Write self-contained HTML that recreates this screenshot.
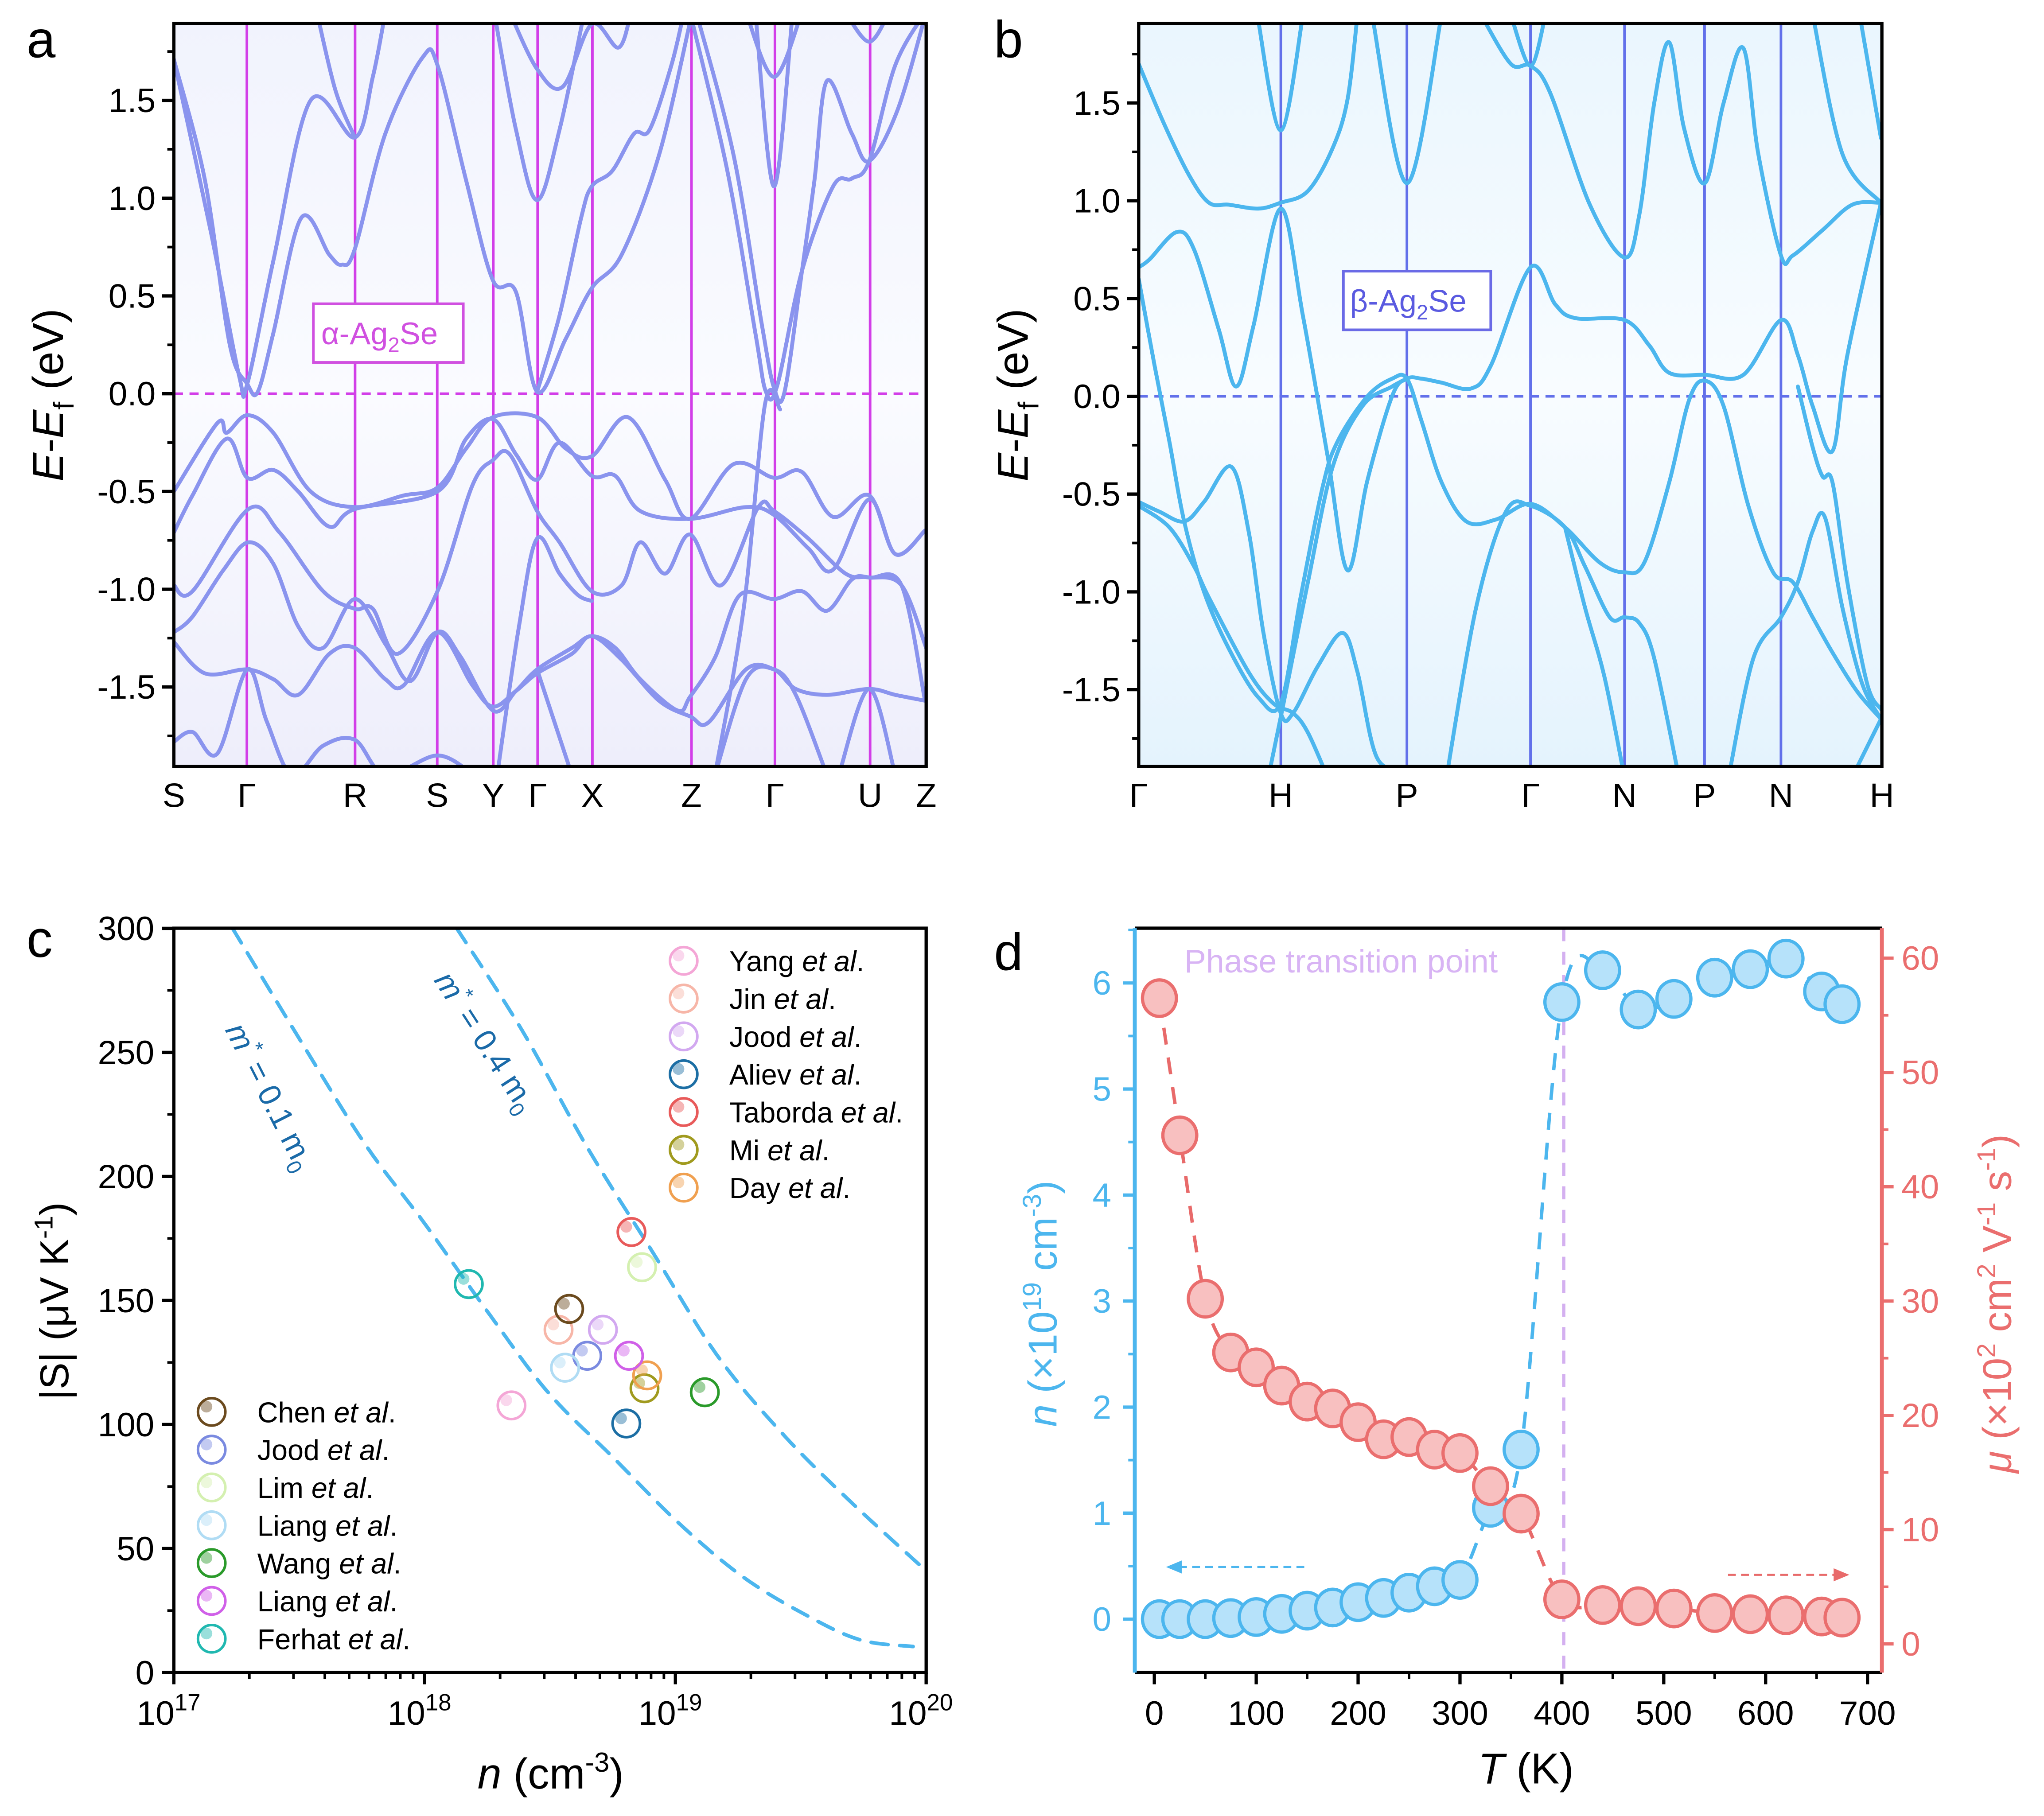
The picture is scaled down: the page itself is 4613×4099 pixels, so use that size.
<!DOCTYPE html>
<html><head><meta charset="utf-8"><style>
html,body{margin:0;padding:0;background:#fff}
svg{display:block}
text{font-family:"Liberation Sans",sans-serif}
</style></head><body>
<svg id="fig" xmlns="http://www.w3.org/2000/svg" width="4613" height="4099" viewBox="0 0 1567 1393">
<defs>
<linearGradient id="ga" x1="0" y1="0" x2="0" y2="1"><stop offset="0" stop-color="#f1f3fd"/><stop offset="0.5" stop-color="#fafbff"/><stop offset="1" stop-color="#eeeefb"/></linearGradient>
<linearGradient id="gb" x1="0" y1="0" x2="0" y2="1"><stop offset="0" stop-color="#eaf6fe"/><stop offset="0.5" stop-color="#f8fcff"/><stop offset="1" stop-color="#e4f3fd"/></linearGradient>
<clipPath id="ca"><rect x="133" y="18" width="577" height="570"/></clipPath>
<clipPath id="cb"><rect x="873" y="18" width="570" height="570"/></clipPath>
<clipPath id="cc"><rect x="133" y="712" width="577" height="571"/></clipPath>
</defs>
<g font-size="40" fill="#000">
<text x="20" y="44">a</text>
<text x="762" y="44">b</text>
<text x="20" y="734">c</text>
<text x="762" y="744">d</text>
</g>
<rect x="133" y="18" width="577" height="570" fill="url(#ga)"/>
<rect x="873" y="18" width="570" height="570" fill="url(#gb)"/>
<g id="ga-g" clip-path="url(#ca)"></g>
<g id="gb-g" clip-path="url(#cb)"></g>
<g id="gc-g"></g>
<g id="gd-g"></g>
<g id="axes"></g>
</svg>
<script>
// ---------- Panel a data ----------
const aKLabels = ["S","Γ","R","S","Y","Γ","X","Z","Γ","U","Z"];
const aKPos = [0,56,139,202,245,279,321,397,461,534,577];
const aBandsK = [
 [0,23.9,42.9,56.3,64.4,76.3,97.8,119.3,128.8,138.8,162.2,190.8,202.2,224.2,244.7,262.4,278.6,300.5,320.5,343.4,372.1,395.9],
 [0,28.6,50.1,56.3,76.3,104.9,138.8,152.6,162.2],
 [109.7,124,138.8],
 [245.7,262.4,278.6,295.8,314.8],
 [257.6,278.6,298.3,320.5,341,350.6],
 [278.6,295.8,312.4,320.5,336.3,353,364.9,381.6,391.2],
 [395.9,424.5,446,454.1,462.7,481.8,505.6,519.9,533.3,553.3,576.2],
 [400.7,429.3,450.8,460.3,468.4,481.8,491.3,500.9,520,533.3,555,577],
 [438.8,460.3,481.7],
 [446,460.3,474.6],
 [515,533.3,548.6],
 [0,33.4,40.5,56.3,76.3,104.9,138.8,176.5,202.2,224.2,244.7,278.6,300.5,320.5,348.2,376.8,395.9,429.3,460.3,481.7,505.6,533.3,553.3,576.1],
 [0,14.3,40.5,56.3,76.3,95.4,119.3,138.8,202.2,224.2,244.7,262.4,278.6,295.8,320.5,338.6,357.7,395.9,438.8,460.3,486.5,505.6,533.3,553.3,576.1],
 [0,14.3,57.2,81.1,114.5,138.8,152.6,171.7,202.2,228.9,244.7,257.6,278.6,295.8,320.5,343.4,357.7,376.8,395.9,419.7,448.3,460.3,486.5,515.2,533.3,558.1,576.1],
 [0,14.3,38.2,57.2,76.3,95.4,114.5,138.8,162.2,181.3,202.2,219.4,244.7,262.4,278.6,305.3,320.5,338.6,357.7,386.3,395.9,415,434,460.3,481.7,500.9,520,533.3,558.1,577],
 [0,23.8,56.3,76.3,95.4,119.3,138.8,162.2,176.5,202.2,228.9,244.7,262.4,278.6,305.3,320.5,343.4,372.1,395.9,410.2,438.8,460.3,477,500.9,533.3,553.3,576.1],
 [0,14.3,33.4,56.3,71.5,90.6,114.5,138.8,162.2,202.2,230],
 [278.6,305.3],
 [248,264.7,278.6,295.8,310,320.5],
 [415,437,453.5,465],
 [415,438.8,460.3,477,500.9],
 [510,533.3,553.3]
];
const aBandsE = [
 [1.71,1.09,0.25,0.05,0.01,0.31,0.90,0.71,0.66,0.74,1.33,1.72,1.68,1.09,0.58,0.52,0.01,0.28,0.54,0.71,1.22,1.90],
 [1.71,0.82,0.09,0.05,0.68,1.50,1.31,1.62,1.95],
 [1.95,1.55,1.31],
 [1.95,1.35,0.99,1.35,1.95],
 [1.95,1.66,1.57,1.89,1.77,1.95],
 [0.01,0.40,0.90,1.06,1.14,1.33,1.35,1.68,1.95],
 [1.95,1.14,0.31,0.01,0.04,0.63,1.06,1.10,1.19,1.68,1.95],
 [1.95,1.22,0.36,0.03,0.01,0.63,1.09,1.60,1.33,1.19,1.45,1.95],
 [1.95,1.62,1.95],
 [1.95,1.06,1.95],
 [1.95,1.80,1.95],
 [-0.50,-0.15,-0.20,-0.11,-0.20,-0.50,-0.58,-0.52,-0.48,-0.28,-0.12,-0.12,-0.28,-0.32,-0.12,-0.44,-0.64,-0.36,-0.43,-0.40,-0.63,-0.52,-0.82,-0.70],
 [-0.71,-0.52,-0.23,-0.43,-0.39,-0.50,-0.68,-0.59,-0.50,-0.23,-0.13,-0.31,-0.44,-0.25,-0.42,-0.42,-0.60,-0.64,-0.58,-0.62,-0.79,-0.90,-0.54,-0.82,-0.70],
 [-0.98,-1.01,-0.59,-0.71,-1.01,-1.10,-1.10,-1.33,-1.01,-0.47,-0.34,-0.31,-0.60,-0.76,-1.01,-0.98,-0.76,-0.92,-0.72,-0.98,-0.58,-0.60,-0.74,-0.92,-0.94,-0.98,-1.57],
 [-1.22,-1.14,-0.90,-0.76,-0.87,-1.19,-1.30,-1.05,-1.28,-1.47,-1.22,-1.34,-1.62,-1.52,-1.41,-1.30,-1.24,-1.30,-1.46,-1.62,-1.55,-1.35,-1.03,-1.05,-1.01,-1.11,-0.95,-0.94,-0.98,-1.30],
 [-1.27,-1.43,-1.41,-1.46,-1.54,-1.33,-1.30,-1.46,-1.49,-1.22,-1.49,-1.60,-1.52,-1.43,-1.33,-1.24,-1.36,-1.57,-1.65,-1.68,-1.41,-1.41,-1.51,-1.54,-1.51,-1.54,-1.57],
 [-1.78,-1.73,-1.84,-1.41,-1.68,-1.95,-1.80,-1.77,-1.95,-1.85,-1.95],
 [-1.41,-1.95],
 [-1.95,-1.19,-0.74,-0.92,-1.03,-1.06],
 [-1.95,-1.10,-0.05,-0.08],
 [-1.95,-1.46,-1.41,-1.54,-1.95],
 [-1.95,-1.51,-1.95]
];
// ---------- Panel b data ----------
const bKLabels = ["Γ","H","P","Γ","N","P","N","H"];
const bKPos = [0,109,205.7,300.5,372.6,434,492.6,570];
const bBandsK = [
 [0,19.7,38.7,53.9,69.1,91.8,108.9,129.8,148.8,160.2,167.8],
 [91,108.9,126],
 [179,205.7,232.3],
 [262.6,285.4,300.5,315.7,346,372.6,384,395.4,406.9,418.3,434.2,448.6,463.8,475.2,492.6,501.7,524.5,547.3,569.3],
 [285.4,300.5,312],
 [517,539.7,569.3],
 [553,569.3],
 [0,8.3,29.2,42.5,61.5,74.8,88.0,108.9,126,145,160.2,175.4,194.3,205.7,217.1,232.3,255,270.3,300.5,319.5,334.7,372.6,391.6,406.9,434.2,463.8,492.6,505.6,516.9,532.1,543.5,569.3],
 [0,12.1,23.5,34.9,50.1,69.1,91.8,108.9,124.1,141.2,152.6,175.4,194.3,205.7,217.1,232.3,251.3,274,300.5,327,353.6,372.6,387.8,406.9,422.1,434.2,448.6,467.6,486.6,501.7,516.9,532.1,551.1,569.3],
 [0,15.9,34.9,50.1,71,84.3,95.7,108.9,118.4,137.4,156.4,167.8,182.9,205.7,228.5],
 [0,23.5,42.5,53.9,84.3,103.2,118.4,129.8,145],
 [99.4,110.8,129.8,148.8,171.6,194.3,205.7],
 [236,258.8,281.6,300.5,327,342.3,361.3,372.6,384,395.4,414.4],
 [327,342.3,357.4,372.6],
 [452.4,471.4,492.6,505.6,516.9,526.4,539.7,554.9,569.3],
 [505.6,516.9,524.5,532.1,543.5,558.7,569.3],
 [547,569.3]
];
const bBandsE = [
 [1.70,1.39,1.13,0.99,0.98,0.96,0.99,1.05,1.27,1.52,1.95],
 [1.95,1.36,1.95],
 [1.95,1.09,1.95],
 [1.95,1.70,1.69,1.55,0.98,0.71,0.93,1.50,1.81,1.37,1.09,1.50,1.78,1.24,0.72,0.72,0.85,0.98,0.99],
 [1.95,1.69,1.95],
 [1.95,1.24,0.99],
 [1.95,1.32],
 [0.66,0.70,0.84,0.75,0.34,0.05,0.36,0.96,0.41,-0.31,-0.89,-0.43,0.00,0.09,0.09,0.07,0.04,0.16,0.66,0.47,0.40,0.39,0.26,0.12,0.11,0.11,0.39,0.21,-0.05,-0.28,0.21,0.99],
 [0.60,0.16,-0.23,-0.64,-1.00,-1.29,-1.54,-1.57,-1.03,-0.46,-0.23,0.00,0.09,0.09,-0.13,-0.44,-0.64,-0.63,-0.55,-0.67,-0.85,-0.90,-0.85,-0.44,-0.02,0.08,-0.05,-0.56,-0.90,-0.95,-1.13,-1.31,-1.51,-1.65],
 [-0.54,-0.59,-0.64,-0.54,-0.36,-0.69,-1.21,-1.62,-1.62,-1.38,-1.21,-1.41,-1.85,-1.90,-1.90],
 [-0.56,-0.67,-0.87,-1.03,-1.41,-1.57,-1.62,-1.72,-1.95],
 [-1.95,-1.58,-0.95,-0.36,-0.05,0.05,0.09],
 [-1.95,-1.08,-0.59,-0.56,-0.67,-0.87,-1.13,-1.13,-1.16,-1.34,-1.95],
 [-0.67,-1.08,-1.44,-1.95],
 [-1.95,-1.34,-1.13,-0.95,-0.69,-0.62,-1.08,-1.47,-1.65],
 [0.05,-0.26,-0.41,-0.44,-0.95,-1.47,-1.60],
 [-1.95,-1.65]
];
const eTicks = [-1.5,-1.0,-0.5,0.0,0.5,1.0,1.5];
// ---------- Panel c data ----------
const cLogN01 = [17.234,17.504,17.764,17.998,18.258,18.492,18.752,19.012,19.272,19.532,19.74,19.948];
const cS01 = [300,254.9,212.8,181.3,144.5,113.0,86.7,60.4,38.4,22.6,13.1,10.5];
const cLogN04 = [18.128,18.388,18.648,18.908,19.168,19.428,19.688,20];
const cS04 = [300,259,211.8,169.7,127.7,96.2,69.9,41];
const cNames = ["Yang","Jin","Jood","Aliev","Taborda","Mi","Day","Chen","Jood","Lim","Liang","Wang","Liang","Ferhat"];
const cColors = ["#f4a6d6","#f7b6a8","#d2a8f0","#1c6ea4","#e85a5a","#a09a1e","#f0a050","#6b4a1e","#7a8ae0","#d4f0b0","#b0dcf4","#2a9a2a","#d060e8","#20b8b0"];
const cN = [2.22e18,3.42e18,5.14e18,6.37e18,6.68e18,7.53e18,7.72e18,3.77e18,4.45e18,7.36e18,3.63e18,1.31e19,6.53e18,1.50e18];
const cS = [107.7,138.2,138.2,100.4,177.6,114.6,119.8,146.6,127.7,163.4,122.9,113.0,127.7,156.6];
const cTicksY = [0,50,100,150,200,250,300];
const cTicksX = [17,18,19,20];
// ---------- Panel d data ----------
const dT = [5,25,50,75,100,125,150,175,200,225,250,275,300,330,360,400,440,475,510,550,585,620,655,675];
const dN = [0,0,0,0.01,0.02,0.05,0.08,0.11,0.16,0.2,0.25,0.31,0.37,1.05,1.6,5.82,6.12,5.75,5.85,6.05,6.13,6.23,5.92,5.8];
const dMu = [56.5,44.5,30.2,25.5,24.2,22.6,21.2,20.6,19.4,17.9,18.1,17.0,16.7,13.8,11.4,3.9,3.4,3.3,3.1,2.7,2.6,2.5,2.4,2.3];
const dTicksX = [0,100,200,300,400,500,600,700];
const dTicksN = [0,1,2,3,4,5,6];
const dTicksMu = [0,10,20,30,40,50,60];

const NS = "http://www.w3.org/2000/svg";
function mk(tag, attrs, parent, name) {
  const el = document.createElementNS(NS, tag);
  for (const k in attrs) el.setAttribute(k, attrs[k]);
  
  
  parent.appendChild(el);
  return el;
}
function smooth(pts) {
  let d = "M" + pts[0][0] + "," + pts[0][1];
  for (let i = 0; i < pts.length - 1; i++) {
    const p0 = pts[Math.max(i - 1, 0)], p1 = pts[i], p2 = pts[i + 1], p3 = pts[Math.min(i + 2, pts.length - 1)];
    const c1 = [p1[0] + (p2[0] - p0[0]) / 6, p1[1] + (p2[1] - p0[1]) / 6];
    const c2 = [p2[0] - (p3[0] - p1[0]) / 6, p2[1] - (p3[1] - p1[1]) / 6];
    d += " C" + c1 + " " + c2 + " " + p2;
  }
  return d;
}
const ax = document.getElementById('axes');
const TF = 26;

function bandPanel(gid, x0, y0zero, kPos, kLabels, bandsK, bandsE, bandColor, vColor, name) {
  const g = document.getElementById(gid);
  const X = k => x0 + k;
  const Y = e => y0zero - e * 150;
  kPos.forEach((k, i) => {
    if (i > 0 && i < kPos.length - 1)
      mk('line', {x1: X(k), x2: X(k), y1: 18, y2: 588, stroke: vColor, 'stroke-width': 2}, g, name + '-kline');
  });
  mk('line', {x1: x0, x2: x0 + 580, y1: Y(0), y2: Y(0), stroke: vColor, 'stroke-width': 2, 'stroke-dasharray': '7,5'}, g, name + '-fermi-level');
  bandsK.forEach((ks, b) => {
    const pts = ks.map((k, i) => [X(k), Y(bandsE[b][i])]);
    mk('path', {d: smooth(pts), fill: 'none', stroke: bandColor, 'stroke-width': 3, 'stroke-linecap': 'round'}, g, name + '-band');
  });
  kPos.forEach((k, i) => {
    const t = mk('text', {x: X(k), y: 619, 'font-size': TF, 'text-anchor': 'middle'}, ax, name + '-k-label');
    t.textContent = kLabels[i];
  });
  eTicks.forEach(e => {
    mk('line', {x1: x0, x2: x0 - 9, y1: Y(e), y2: Y(e), stroke: '#000', 'stroke-width': 2.5}, ax, name + '-y-tick');
    mk('line', {x1: x0, x2: x0 - 5, y1: Y(e + 0.25), y2: Y(e + 0.25), stroke: '#000', 'stroke-width': 2}, ax, name + '-y-minor-tick');
    if (e === -1.5) mk('line', {x1: x0, x2: x0 - 5, y1: Y(e - 0.25), y2: Y(e - 0.25), stroke: '#000', 'stroke-width': 2}, ax, name + '-y-minor-tick');
    const t = mk('text', {x: x0 - 14, y: Y(e) + 9, 'font-size': TF, 'text-anchor': 'end'}, ax, name + '-y-tick-label');
    t.textContent = e.toFixed(1);
  });
}
bandPanel('ga-g', 133, 302, aKPos, aKLabels, aBandsK, aBandsE, '#8a94ee', '#d23ee8', 'panel-a');
bandPanel('gb-g', 873, 304, bKPos, bKLabels, bBandsK, bBandsE, '#4cb6ee', '#6270ea', 'panel-b');
mk('rect', {x: 133, y: 18, width: 577, height: 570, fill: 'none', stroke: '#000', 'stroke-width': 2.5}, ax, 'panel-a-frame');
mk('rect', {x: 873, y: 18, width: 570, height: 570, fill: 'none', stroke: '#000', 'stroke-width': 2.5}, ax, 'panel-b-frame');

// ----- panel c -----
(function () {
  const g = document.getElementById('gc-g');
  const X = l => 133 + (l - 17) * 192.33;
  const Y = s => 1283 - s * 1.903;
  const clip = mk('g', {'clip-path': 'url(#cc)'}, g, 'panel-c-plot-area');
  mk('path', {d: smooth(cLogN01.map((l, i) => [X(l), Y(cS01[i])])), fill: 'none', stroke: '#4cb6ee', 'stroke-width': 2.8, 'stroke-dasharray': '13,9', 'stroke-linecap': 'round'}, clip, 'curve-m-0.1');
  mk('path', {d: smooth(cLogN04.map((l, i) => [X(l), Y(cS04[i])])), fill: 'none', stroke: '#4cb6ee', 'stroke-width': 2.8, 'stroke-dasharray': '13,9', 'stroke-linecap': 'round'}, clip, 'curve-m-0.4');
  cN.forEach((n, i) => {
    const cx = X(Math.log10(n)), cy = Y(cS[i]);
    mk('circle', {cx: cx - 4, cy: cy - 4, r: 4.5, fill: cColors[i], 'fill-opacity': 0.45}, g, 'data-point-glow');
    mk('circle', {cx: cx, cy: cy, r: 10.5, fill: 'none', stroke: cColors[i], 'stroke-width': 2}, g, 'data-point-' + cNames[i].toLowerCase());
  });
  const order1 = [0, 1, 2, 3, 4, 5, 6];
  const order2 = [7, 8, 9, 10, 11, 12, 13];
  [[order1, 524, 737], [order2, 162, 1083]].forEach(([ord, lx, ly]) => {
    ord.forEach((idx, j) => {
      const cy = ly + j * 29;
      mk('circle', {cx: lx - 4, cy: cy - 4, r: 4.5, fill: cColors[idx], 'fill-opacity': 0.45}, g, 'legend-marker-glow');
      mk('circle', {cx: lx, cy: cy, r: 10.5, fill: 'none', stroke: cColors[idx], 'stroke-width': 2}, g, 'legend-marker');
      const t = mk('text', {x: lx + 35, y: cy + 8, 'font-size': 22}, g, 'legend-entry');
      t.innerHTML = cNames[idx] + ' <tspan font-style="italic">et al</tspan>.';
    });
  });
  cTicksY.forEach(s => {
    mk('line', {x1: 133, x2: 124, y1: Y(s), y2: Y(s), stroke: '#000', 'stroke-width': 2.5}, ax, 'panel-c-y-tick');
    if (s < 300) mk('line', {x1: 133, x2: 128, y1: Y(s + 25), y2: Y(s + 25), stroke: '#000', 'stroke-width': 2}, ax, 'panel-c-y-minor-tick');
    const t = mk('text', {x: 118, y: Y(s) + 9, 'font-size': TF, 'text-anchor': 'end'}, ax, 'panel-c-y-tick-label');
    t.textContent = s;
  });
  cTicksX.forEach(l => {
    mk('line', {x1: X(l), x2: X(l), y1: 1283, y2: 1292, stroke: '#000', 'stroke-width': 2.5}, ax, 'panel-c-x-tick');
    if (l < 20) for (let m = 2; m < 10; m++) mk('line', {x1: X(l + Math.log10(m)), x2: X(l + Math.log10(m)), y1: 1283, y2: 1288, stroke: '#000', 'stroke-width': 2}, ax, 'panel-c-x-minor-tick');
    const t = mk('text', {x: X(l) - 4, y: 1323, 'font-size': TF, 'text-anchor': 'middle'}, ax, 'panel-c-x-tick-label');
    t.innerHTML = '10<tspan dy="-11" font-size="18">' + l + '</tspan>';
  });
  mk('rect', {x: 133, y: 712, width: 577, height: 571, fill: 'none', stroke: '#000', 'stroke-width': 2.5}, ax, 'panel-c-frame');
})();

// ----- panel d -----
(function () {
  const g = document.getElementById('gd-g');
  const X = t => 885 + t * 0.7814;
  const YN = n => 1242 - n * 81.33;
  const YM = m => 1261 - m * 8.767;
  mk('line', {x1: 1199, x2: 1199, y1: 712, y2: 1283, stroke: '#d4b0f0', 'stroke-width': 2.5, 'stroke-dasharray': '10,8'}, g, 'phase-transition-line');
  mk('path', {d: smooth(dT.map((t, i) => [X(t), YN(dN[i])])), fill: 'none', stroke: '#4cb6ee', 'stroke-width': 2.6, 'stroke-dasharray': '13,10'}, g, 'carrier-concentration-line');
  mk('path', {d: smooth(dT.map((t, i) => [X(t), YM(dMu[i])])), fill: 'none', stroke: '#e86a6a', 'stroke-width': 2.6, 'stroke-dasharray': '13,10'}, g, 'mobility-line');
  dT.forEach((t, i) => {
    mk('ellipse', {cx: X(t), cy: YN(dN[i]), rx: 13, ry: 14, fill: '#b6e2fa', stroke: '#4cb6ee', 'stroke-width': 2.5}, g, 'carrier-concentration-point');
  });
  dT.forEach((t, i) => {
    mk('ellipse', {cx: X(t), cy: YM(dMu[i]), rx: 13, ry: 14, fill: '#f8c0c0', stroke: '#ea6e6e', 'stroke-width': 2.5}, g, 'mobility-point');
  });
  mk('line', {x1: 1000, x2: 902, y1: 1202, y2: 1202, stroke: '#4cb6ee', 'stroke-width': 1.5, 'stroke-dasharray': '6,4'}, g, 'left-axis-arrow');
  mk('path', {d: 'M894,1202 L906,1197 L906,1207 Z', fill: '#4cb6ee'}, g, 'left-axis-arrowhead');
  mk('line', {x1: 1325, x2: 1410, y1: 1208, y2: 1208, stroke: '#e86a6a', 'stroke-width': 1.5, 'stroke-dasharray': '6,4'}, g, 'right-axis-arrow');
  mk('path', {d: 'M1418,1208 L1406,1203 L1406,1213 Z', fill: '#e86a6a'}, g, 'right-axis-arrowhead');
  const pt = mk('text', {x: 908, y: 746, 'font-size': 25, fill: '#d8b4f4'}, g, 'phase-transition-label');
  pt.textContent = 'Phase transition point';
  mk('line', {x1: 870, x2: 1443, y1: 1283, y2: 1283, stroke: '#000', 'stroke-width': 2.5}, ax, 'panel-d-x-axis');
  mk('line', {x1: 870, x2: 1443, y1: 712, y2: 712, stroke: '#000', 'stroke-width': 2.5}, ax, 'panel-d-top-axis');
  mk('line', {x1: 870, x2: 870, y1: 712, y2: 1283, stroke: '#4cb6ee', 'stroke-width': 3}, ax, 'panel-d-left-axis');
  mk('line', {x1: 1443, x2: 1443, y1: 712, y2: 1283, stroke: '#ea6e6e', 'stroke-width': 3}, ax, 'panel-d-right-axis');
  dTicksX.forEach(t => {
    mk('line', {x1: X(t), x2: X(t), y1: 1283, y2: 1292, stroke: '#000', 'stroke-width': 2.5}, ax, 'panel-d-x-tick');
    if (t < 700) mk('line', {x1: X(t + 50), x2: X(t + 50), y1: 1283, y2: 1288, stroke: '#000', 'stroke-width': 2}, ax, 'panel-d-x-minor-tick');
    const tx = mk('text', {x: X(t), y: 1323, 'font-size': TF, 'text-anchor': 'middle'}, ax, 'panel-d-x-tick-label');
    tx.textContent = t;
  });
  dTicksN.forEach(n => {
    mk('line', {x1: 870, x2: 861, y1: YN(n), y2: YN(n), stroke: '#4cb6ee', 'stroke-width': 2.5}, ax, 'panel-d-left-tick');
    mk('line', {x1: 870, x2: 865, y1: YN(n + 0.5), y2: YN(n + 0.5), stroke: '#4cb6ee', 'stroke-width': 2}, ax, 'panel-d-left-minor-tick');
    const t = mk('text', {x: 852, y: YN(n) + 9, 'font-size': TF, 'text-anchor': 'end', fill: '#4cb6ee'}, ax, 'panel-d-left-tick-label');
    t.textContent = n;
  });
  dTicksMu.forEach(m => {
    mk('line', {x1: 1443, x2: 1452, y1: YM(m), y2: YM(m), stroke: '#ea6e6e', 'stroke-width': 2.5}, ax, 'panel-d-right-tick');
    if (m < 60) mk('line', {x1: 1443, x2: 1448, y1: YM(m + 5), y2: YM(m + 5), stroke: '#ea6e6e', 'stroke-width': 2}, ax, 'panel-d-right-minor-tick');
    const t = mk('text', {x: 1458, y: YM(m) + 9, 'font-size': TF, fill: '#ea6e6e'}, ax, 'panel-d-right-tick-label');
    t.textContent = m;
  });
})();
</script>
<script>
(function(){
  const s = document.getElementById('fig');
  s.insertAdjacentHTML('beforeend',
  '<g font-family="Liberation Sans, sans-serif">' +
  '<text transform="translate(48,303) rotate(-90)" text-anchor="middle" font-size="33"><tspan font-style="italic">E</tspan>-<tspan font-style="italic">E</tspan><tspan font-size="22" dy="8">f</tspan><tspan dy="-8"> (eV)</tspan></text>' +
  '<text transform="translate(788,303) rotate(-90)" text-anchor="middle" font-size="33"><tspan font-style="italic">E</tspan>-<tspan font-style="italic">E</tspan><tspan font-size="22" dy="8">f</tspan><tspan dy="-8"> (eV)</tspan></text>' +
  '<rect x="240" y="233" width="115" height="45" fill="#fff" stroke="#d050e0" stroke-width="2"/>' +
  '<text x="246" y="264" font-size="24" fill="#d050e0">α-Ag<tspan font-size="16" dy="6">2</tspan><tspan dy="-6">Se</tspan></text>' +
  '<rect x="1030" y="208" width="113" height="45" fill="#fff" stroke="#6a6ae6" stroke-width="2"/>' +
  '<text x="1035" y="239" font-size="24" fill="#5a5ae0">β-Ag<tspan font-size="16" dy="6">2</tspan><tspan dy="-6">Se</tspan></text>' +
  '<text transform="translate(52,998) rotate(-90)" text-anchor="middle" font-size="31">|S| (μV K<tspan font-size="20" dy="-12">-1</tspan><tspan dy="12">)</tspan></text>' +
  '<text x="422" y="1372" text-anchor="middle" font-size="33"><tspan font-style="italic">n</tspan> (cm<tspan font-size="21" dy="-13">-3</tspan><tspan dy="13">)</tspan></text>' +
  '<text transform="translate(172,790) rotate(63)" font-size="24" fill="#1a6aa8"><tspan font-style="italic">m</tspan><tspan font-size="16" dy="-10">*</tspan><tspan dy="10"> = 0.1 m</tspan><tspan font-size="16" dy="6">0</tspan></text>' +
  '<text transform="translate(332,752) rotate(57)" font-size="24" fill="#1a6aa8"><tspan font-style="italic">m</tspan><tspan font-size="16" dy="-10">*</tspan><tspan dy="10"> = 0.4 m</tspan><tspan font-size="16" dy="6">0</tspan></text>' +
  '<text x="1170" y="1368" text-anchor="middle" font-size="33"><tspan font-style="italic">T</tspan> (K)</text>' +
  '<text transform="translate(810,1000) rotate(-90)" text-anchor="middle" font-size="31" fill="#4cb6ee"><tspan font-style="italic">n</tspan> (×10<tspan font-size="20" dy="-12">19</tspan><tspan dy="12"> cm</tspan><tspan font-size="20" dy="-12">-3</tspan><tspan dy="12">)</tspan></text>' +
  '<text transform="translate(1542,1000) rotate(-90)" text-anchor="middle" font-size="31" fill="#ea6e6e"><tspan font-style="italic">μ</tspan> (×10<tspan font-size="20" dy="-12">2</tspan><tspan dy="12"> cm</tspan><tspan font-size="20" dy="-12">2</tspan><tspan dy="12"> V</tspan><tspan font-size="20" dy="-12">-1</tspan><tspan dy="12"> s</tspan><tspan font-size="20" dy="-12">-1</tspan><tspan dy="12">)</tspan></text>' +
  '</g>');
})();
</script>
</body></html>
